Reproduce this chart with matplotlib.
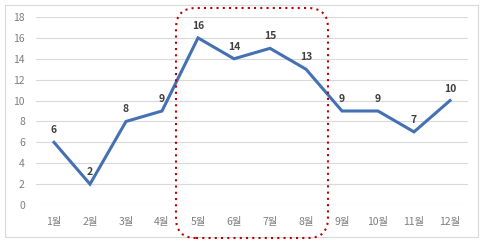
import matplotlib
matplotlib.use("Agg")
import matplotlib.pyplot as plt
from matplotlib.patches import FancyBboxPatch, Rectangle
from matplotlib.transforms import IdentityTransform

plt.rcParams['font.family'] = ['Noto Sans CJK KR', 'DejaVu Sans']

months = [1, 2, 3, 4, 5, 6, 7, 8, 9, 10, 11, 12]
month_labels = ["1월", "2월", "3월", "4월", "5월", "6월", "7월", "8월", "9월", "10월", "11월", "12월"]
values = [6, 2, 8, 9, 16, 14, 15, 13, 9, 9, 7, 10]
y_ticks = [0, 2, 4, 6, 8, 10, 12, 14, 16, 18]

W, H = 489, 244
fig = plt.figure(figsize=(W / 100, H / 100), dpi=100)
fig.patch.set_facecolor("white")

# outer chart border
fig.patches.append(Rectangle((5 / W, 1 - 237 / H), 473 / W, 232 / H, transform=fig.transFigure,
                             fill=False, edgecolor="#D9D9D9", linewidth=0.8))

ax = fig.add_axes([36 / W, 1 - 205 / H, 432 / W, 188 / H])
ax.set_xlim(0.5, 12.5)
ax.set_ylim(0, 18)
ax.set_yticks(y_ticks)
ax.set_xticks(months)
ax.set_xticklabels(month_labels)
ax.grid(axis="y", color="#D9D9D9", linewidth=0.8)
ax.set_axisbelow(True)
for s in ax.spines.values():
    s.set_visible(False)
ax.tick_params(axis="both", length=0, labelsize=7.5, labelcolor="#7F7F7F")
ax.tick_params(axis="y", pad=8)
ax.tick_params(axis="x", pad=9)

ax.plot(months, values, color="#4470B4", linewidth=2.2, solid_joinstyle="miter")
for m, v in zip(months, values):
    ax.annotate(str(v), (m, v), xytext=(0, 5), textcoords="offset points",
                ha="center", va="bottom", fontsize=7.5, fontweight="bold", color="#404040")

# dotted rounded highlight box (pixel coordinates)
box = FancyBboxPatch((176, H - 238), 152, 230,
                     boxstyle="round,pad=0,rounding_size=20",
                     transform=IdentityTransform(), fill=False, edgecolor="#C00000",
                     linewidth=1.5, linestyle=(0, (1, 2)))
fig.patches.append(box)

fig.savefig("out.png", dpi=100)
